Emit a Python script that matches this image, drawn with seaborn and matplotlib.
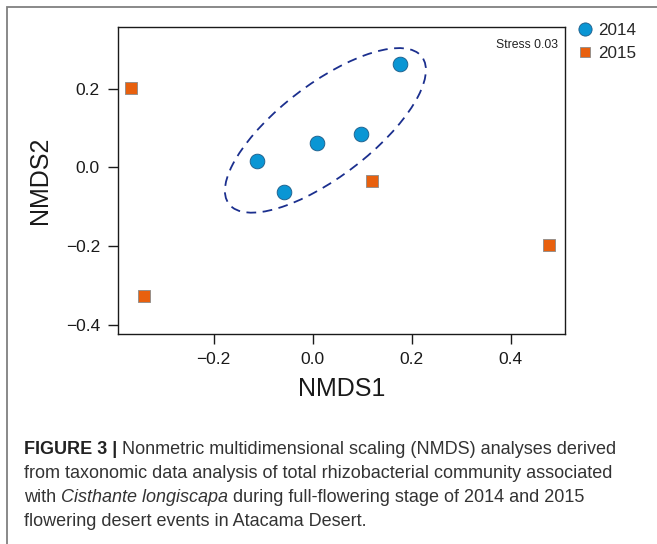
import matplotlib
matplotlib.use("Agg")
import matplotlib.pyplot as plt
from matplotlib.patches import Ellipse, Rectangle
from matplotlib.lines import Line2D
import seaborn as sns
import pandas as pd

# ---- data ----
x_2014 = [-0.112, -0.058, 0.008, 0.098, 0.176]
y_2014 = [0.017, -0.062, 0.062, 0.084, 0.262]
x_2015 = [-0.366, -0.341, 0.120, 0.477]
y_2015 = [0.203, -0.328, -0.034, -0.197]
years = ["2014", "2015"]
x_ticks = [-0.2, 0.0, 0.2, 0.4]
y_ticks = [-0.4, -0.2, 0.0, 0.2]
# 2014 dispersion ellipse (centre, full width, full height, angle in degrees)
ell_center = (0.026, 0.094)
ell_width = 0.543
ell_height = 0.213
ell_angle = 46.2
stress_label = "Stress 0.03"
caption_lines = [
    [("b", "FIGURE 3 |"), ("r", " Nonmetric multidimensional scaling (NMDS) analyses derived")],
    [("r", "from taxonomic data analysis of total rhizobacterial community associated")],
    [("r", "with "), ("i", "Cisthante longiscapa"), ("r", " during full-flowering stage of 2014 and 2015")],
    [("r", "flowering desert events in Atacama Desert.")],
]

df = pd.DataFrame({
    "NMDS1": x_2014 + x_2015,
    "NMDS2": y_2014 + y_2015,
    "Year": [years[0]] * len(x_2014) + [years[1]] * len(x_2015),
})

sns.set_style("ticks")
plt.rcParams["font.family"] = ["Liberation Sans", "DejaVu Sans"]

W, H = 657, 544
fig = plt.figure(figsize=(W / 100, H / 100), dpi=100)
ax = fig.add_axes([118 / W, 1 - 334 / H, (565 - 118) / W, (334 - 27) / H])

blue = "#0a96d4"
orange = "#e8600e"

sub14 = df[df.Year == "2014"]
sub15 = df[df.Year == "2015"]
sns.scatterplot(data=sub14, x="NMDS1", y="NMDS2", color=blue, marker="o", s=112,
                edgecolor="#1c5a86", linewidth=0.6, ax=ax, legend=False, zorder=3)
sns.scatterplot(data=sub15, x="NMDS1", y="NMDS2", color=orange, marker="s", s=82,
                edgecolor="#8a8a8a", linewidth=0.6, ax=ax, legend=False, zorder=3)

ell = Ellipse(ell_center, ell_width, ell_height, angle=ell_angle, fill=False,
              edgecolor="#1b2f8e", linewidth=1.3, linestyle=(0, (5.4, 3.6)), zorder=2)
ax.add_patch(ell)

ax.set_xlim(-0.393, 0.51)
ax.set_ylim(-0.424, 0.357)
ax.set_xticks(x_ticks)
ax.set_yticks(y_ticks)
ax.set_xticklabels([f"{v:.1f}".replace("-", "\u2212") for v in x_ticks])
ax.set_yticklabels([f"{v:.1f}".replace("-", "\u2212") for v in y_ticks])
for s in ax.spines.values():
    s.set_visible(True)
    s.set_color("#1a1a1a")
    s.set_linewidth(1.0)
ax.tick_params(axis="both", direction="out", length=7, width=1.0, color="#1a1a1a",
               labelsize=12.5, labelcolor="#1a1a1a", pad=6)
ax.set_xlabel("NMDS1", fontsize=18, color="#1a1a1a", labelpad=7)
ax.set_ylabel("NMDS2", fontsize=18, color="#1a1a1a", labelpad=10)
ax.text(0.985, 0.94, stress_label, transform=ax.transAxes, ha="right", va="center",
        fontsize=8.8, color="#222222")

# legend outside the box
handles = [
    Line2D([], [], marker="o", linestyle="none", markersize=9.5, markerfacecolor=blue,
           markeredgecolor="#1c5a86", markeredgewidth=0.6, label=years[0]),
    Line2D([], [], marker="s", linestyle="none", markersize=7.8, markerfacecolor=orange,
           markeredgecolor="#8a8a8a", markeredgewidth=0.6, label=years[1]),
]
fig.legend(handles=handles, loc="upper left", bbox_to_anchor=(578 / W, 1 - 23 / H),
           frameon=False, fontsize=12.3, handlelength=0.8, handletextpad=0.4,
           labelspacing=0.45, borderpad=0, borderaxespad=0)

# outer frame
fig.patches.append(Rectangle((6.5 / W, -0.1), 1.2, 1 - 7 / H + 0.1, transform=fig.transFigure,
                             fill=False, edgecolor="#808080", linewidth=1.3))

# caption
renderer = fig.canvas.get_renderer()
cap_kw = dict(fontsize=12.95, color="#333333")
def width_px(s, **kw):
    t = fig.text(0, 0, s, **kw)
    w = t.get_window_extent(renderer).width
    t.remove()
    return w

baselines = [454, 478, 502, 526]
for line, yb in zip(caption_lines, baselines):
    xp = 24.0
    for style, seg in line:
        kw = dict(cap_kw)
        if style == "b":
            kw["fontweight"] = "bold"
            kw["color"] = "#222222"
        elif style == "i":
            kw["fontstyle"] = "italic"
        sp = width_px("a a", **kw) - width_px("aa", **kw)
        lead = len(seg) - len(seg.lstrip(" "))
        xp += lead * sp
        seg2 = seg.strip(" ")
        t = fig.text(xp / W, 1 - yb / H, seg2, va="baseline", ha="left", **kw)
        xp += t.get_window_extent(renderer).width
        trail = len(seg) - len(seg.rstrip(" "))
        xp += trail * sp

fig.savefig("out.png", dpi=100)
